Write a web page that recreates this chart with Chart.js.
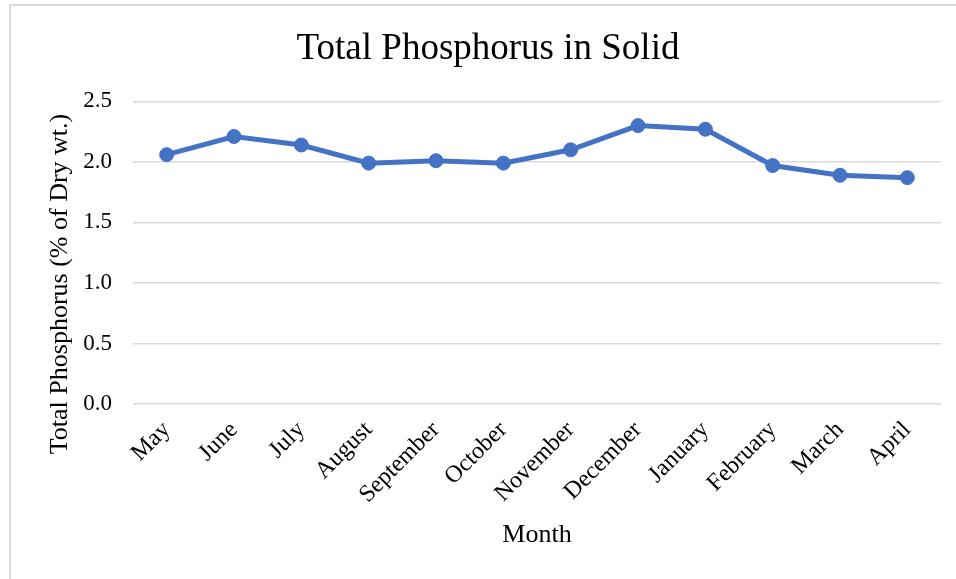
<!DOCTYPE html>
<html>
<head>
<meta charset="utf-8">
<script src="https://cdn.jsdelivr.net/npm/chart.js@4/dist/chart.umd.min.js"></script>
<style>
  html, body { margin: 0; padding: 0; background: #ffffff; overflow: hidden; }
  body { width: 956px; height: 579px; position: relative; }
  #frame { position: absolute; left: 9px; top: 4px; width: 960px; height: 604px; border: 2px solid #d9d9d9; box-sizing: border-box; background: #fff; }
  #wrap { position: absolute; left: 0; top: 0; width: 956px; height: 600px; }
</style>
</head>
<body>
<div id="frame"><div id="wrap"><canvas id="c"></canvas></div></div>
<script>
const months = ["May", "June", "July", "August", "September", "October", "November", "December", "January", "February", "March", "April"];
const totalPhosphorus = [2.06, 2.21, 2.14, 1.99, 2.01, 1.99, 2.10, 2.30, 2.27, 1.97, 1.89, 1.87];
const yTicks = [0.0, 0.5, 1.0, 1.5, 2.0, 2.5];
const chartTitle = "Total Phosphorus in Solid";
const xTitle = "Month";
const yTitle = "Total Phosphorus (% of Dry wt.)";

const FONT = "'Liberation Serif', 'Times New Roman', serif";

const yTitlePlugin = {
  id: 'yTitlePlugin',
  afterDraw(chart) {
    const ctx = chart.ctx;
    ctx.save();
    ctx.translate(49, 278);
    ctx.rotate(-Math.PI / 2);
    ctx.font = "26px " + FONT;
    ctx.fillStyle = "#000000";
    ctx.textAlign = "center";
    ctx.textBaseline = "middle";
    ctx.fillText(yTitle, 0, 0);
    ctx.restore();
  }
};

new Chart(document.getElementById('c'), {
  type: 'line',
  data: {
    labels: months,
    datasets: [{
      data: totalPhosphorus,
      borderColor: '#4472C4',
      backgroundColor: '#4472C4',
      borderWidth: 5,
      pointRadius: 7,
      pointHoverRadius: 7,
      pointBackgroundColor: '#4472C4',
      pointBorderColor: '#4472C4',
      pointBorderWidth: 1,
      tension: 0,
      fill: false
    }]
  },
  options: {
    responsive: true,
    maintainAspectRatio: false,
    animation: false,
    events: [],
    layout: { padding: { left: 24, right: 26, top: 0, bottom: 55 } },
    plugins: {
      legend: { display: false },
      tooltip: { enabled: false },
      title: {
        display: true,
        text: chartTitle,
        color: '#000000',
        font: { family: FONT, size: 37, weight: 'normal' },
        padding: { top: 21, bottom: 30 }
      }
    },
    scales: {
      x: {
        offset: true,
        grid: { display: false, drawTicks: false },
        border: { display: false },
        ticks: {
          color: '#000000',
          font: { family: FONT, size: 24 },
          minRotation: 45,
          maxRotation: 45,
          autoSkip: false,
          padding: 12
        },
        title: {
          display: true,
          text: xTitle,
          color: '#000000',
          font: { family: FONT, size: 26 },
          padding: { top: 0, bottom: 0 }
        },
        afterFit(scale) { scale.height = 147; }
      },
      y: {
        min: 0,
        max: 2.5,
        afterBuildTicks(scale) { scale.ticks = yTicks.map(v => ({ value: v })); },
        grid: { color: '#d9d9d9', lineWidth: 1.5, drawTicks: false },
        border: { display: false },
        ticks: {
          color: '#000000',
          font: { family: FONT, size: 23 },
          padding: 21,
          callback: (v) => Number(v).toFixed(1)
        },
        afterFit(scale) { scale.width = 98; }
      }
    }
  },
  plugins: [yTitlePlugin]
});
</script>
</body>
</html>
